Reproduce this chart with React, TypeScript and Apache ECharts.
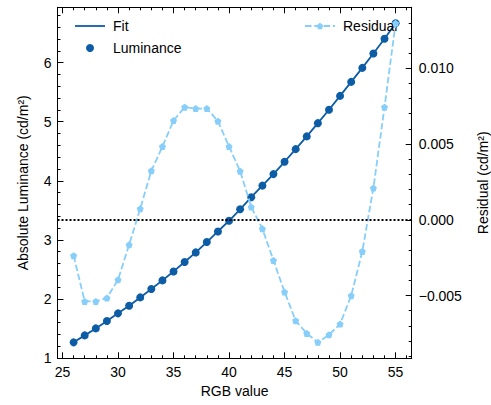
import React, { useEffect, useRef } from "react";
import * as echarts from "echarts";

const rgbValues = [26, 27, 28, 29, 30, 31, 32, 33, 34, 35, 36, 37, 38, 39, 40, 41, 42, 43, 44, 45, 46, 47, 48, 49, 50, 51, 52, 53, 54, 55];
const luminance = [1.264, 1.382, 1.5, 1.626, 1.755, 1.885, 2.025, 2.167, 2.313, 2.465, 2.624, 2.787, 2.962, 3.142, 3.323, 3.517, 3.722, 3.918, 4.113, 4.322, 4.536, 4.752, 4.976, 5.204, 5.438, 5.675, 5.912, 6.157, 6.405, 6.668];
const residual = [-0.00237, -0.00539, -0.00539, -0.00516, -0.00396, -0.00165, 0.00073, 0.00323, 0.00483, 0.00655, 0.00743, 0.00734, 0.00734, 0.00651, 0.00483, 0.00321, 0.00084, -0.00059, -0.00268, -0.00477, -0.00666, -0.0075, -0.00809, -0.00759, -0.00688, -0.00501, -0.00209, 0.00209, 0.00743, 0.01297];

const xMajorTicks = [25, 30, 35, 40, 45, 50, 55];
const yLeftMajorTicks = [1, 2, 3, 4, 5, 6];
const yRightMajorTicks = [-0.005, 0, 0.005, 0.01];

const range = (a: number, b: number, step: number) => {
  const out: number[] = [];
  const n = Math.round((b - a) / step);
  for (let i = 0; i <= n; i++) out.push(+(a + i * step).toFixed(6));
  return out;
};
const xMinorTicks = range(25, 56, 1);
const yLeftMinorTicks = range(1, 6.8, 0.2);
const yRightMinorTicks = range(-0.009, 0.014, 0.001);

const X_MIN = 24.55, X_MAX = 56.45;
const YL_MIN = 0.9938, YL_MAX = 6.9382;
const YR_MIN = -0.009143, YR_MAX = 0.014023;

const DARK = "#0C5DA5";
const LIGHT = "#87CEFA";
const FONT = "Liberation Sans, Arial, Helvetica, sans-serif";

export default function App() {
  const ref = useRef<HTMLDivElement>(null);
  useEffect(() => {
    document.body.style.margin = "0";
    const chart = echarts.init(ref.current!, null, { renderer: "svg" });
    const pentagon = "path://M0,-1 L0.951,-0.309 L0.588,0.809 L-0.588,0.809 L-0.951,-0.309 Z";
    const lineIcon = "path://M0,0 L30,0 L30,1.8 L0,1.8 Z";
    const axisLine = { show: true, onZero: false, lineStyle: { color: "#000", width: 1 } };
    const noLine = { show: false, onZero: false };
    const label = { color: "#000", fontSize: 14, fontFamily: FONT };
    const mkX = (pos: "top" | "bottom", major: boolean, showLabels: boolean) => ({
      type: "value",
      position: pos,
      min: X_MIN,
      max: X_MAX,
      axisLine: major ? axisLine : noLine,
      splitLine: { show: false },
      axisTick: {
        show: true,
        inside: true,
        length: major ? 6 : 3,
        lineStyle: { color: "#000", width: 1 },
        customValues: major ? xMajorTicks : xMinorTicks,
      },
      axisLabel: showLabels
        ? { show: true, ...label, margin: 7, customValues: xMajorTicks }
        : { show: false },
      ...(showLabels
        ? {
            name: "RGB value",
            nameLocation: "middle",
            nameGap: 26,
            nameTextStyle: { ...label },
          }
        : {}),
    });
    const mkY = (
      pos: "left" | "right",
      major: boolean,
      min: number,
      max: number,
      majorTicks: number[],
      minorTicks: number[],
      showLabels: boolean,
      name: string,
      nameGap: number,
      fmt: (v: number) => string
    ) => ({
      type: "value",
      position: pos,
      min,
      max,
      axisLine: major ? axisLine : noLine,
      splitLine: { show: false },
      axisTick: {
        show: true,
        inside: true,
        length: major ? 6 : 3,
        lineStyle: { color: "#000", width: 1 },
        customValues: major ? majorTicks : minorTicks,
      },
      axisLabel: showLabels
        ? { show: true, ...label, margin: pos === "left" ? 6 : 7, customValues: majorTicks, formatter: fmt }
        : { show: false },
      ...(showLabels
        ? {
            name,
            nameLocation: "middle",
            nameRotate: 90,
            nameGap,
            nameTextStyle: { ...label },
          }
        : {}),
    });
    const fmtRight = (v: number) => {
      const s = Math.abs(v).toFixed(3);
      return v < -1e-9 ? "\u2212" + s : s;
    };
    const fmtLeft = (v: number) => String(Math.round(v));

    chart.setOption({
      animation: false,
      backgroundColor: "#fff",
      textStyle: { fontFamily: FONT },
      grid: {
        left: 57.5,
        right: 79.3,
        top: 7.3,
        bottom: 46.7,
        containLabel: false,
        outerBoundsMode: "none",
      },
      legend: [
        {
          data: [{ name: "Fit", icon: lineIcon }, { name: "Luminance" }],
          orient: "vertical",
          left: 70,
          top: 14,
          itemWidth: 30,
          itemHeight: 8,
          itemGap: 8,
          textStyle: { color: "#000", fontSize: 14, fontFamily: FONT, padding: [0, 0, 0, 3] },
          selectedMode: false,
        },
        {
          data: ["Residual"],
          orient: "vertical",
          left: 299,
          top: 14,
          itemWidth: 30,
          itemHeight: 8,
          textStyle: { color: "#000", fontSize: 14, fontFamily: FONT, padding: [0, 0, 0, 3] },
          selectedMode: false,
        },
      ],
      xAxis: [
        mkX("bottom", true, true),
        mkX("bottom", false, false),
        mkX("top", true, false),
        mkX("top", false, false),
      ],
      yAxis: [
        mkY("left", true, YL_MIN, YL_MAX, yLeftMajorTicks, yLeftMinorTicks, true, "Absolute Luminance (cd/m\u00B2)", 28, fmtLeft),
        mkY("left", false, YL_MIN, YL_MAX, yLeftMajorTicks, yLeftMinorTicks, false, "", 0, fmtLeft),
        mkY("right", true, YR_MIN, YR_MAX, yRightMajorTicks, yRightMinorTicks, true, "Residual (cd/m\u00B2)", 64, fmtRight),
        mkY("right", false, YR_MIN, YR_MAX, yRightMajorTicks, yRightMinorTicks, false, "", 0, fmtRight),
      ],
      series: [
        {
          name: "Fit",
          type: "line",
          xAxisIndex: 0,
          yAxisIndex: 0,
          data: rgbValues.map((x, i) => [x, luminance[i]]),
          symbol: "none",
          lineStyle: { color: DARK, width: 1.8 },
          itemStyle: { color: DARK },
          z: 2,
        },
        {
          name: "Luminance",
          type: "scatter",
          xAxisIndex: 0,
          yAxisIndex: 0,
          data: rgbValues.map((x, i) => [x, luminance[i]]),
          symbol: "circle",
          symbolSize: 8,
          itemStyle: { color: DARK, opacity: 1 },
          z: 3,
        },
        {
          name: "Residual",
          type: "line",
          xAxisIndex: 0,
          yAxisIndex: 2,
          data: rgbValues.map((x, i) => [x, residual[i]]),
          symbol: pentagon,
          symbolSize: 7,
          showSymbol: true,
          lineStyle: { color: LIGHT, width: 1.8, type: [6.5, 2.8] },
          itemStyle: { color: LIGHT },
          z: 4,
          markLine: {
            silent: true,
            symbol: "none",
            label: { show: false },
            lineStyle: { color: "#000", width: 2, type: [2, 2] },
            data: [{ yAxis: 0 }],
          },
        },
      ],
    });
    return () => chart.dispose();
  }, []);
  return (
    <div
      ref={ref}
      style={{ position: "absolute", left: 0, top: 0, width: 491, height: 405 }}
    />
  );
}
